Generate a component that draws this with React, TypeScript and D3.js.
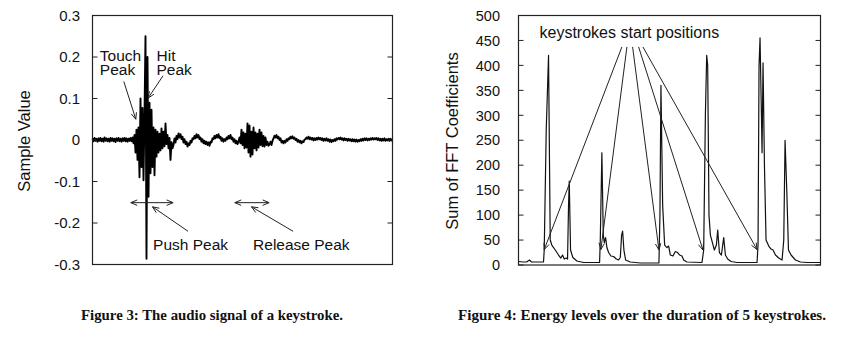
import React from "react";
import * as d3 from "d3";

// ---------- Figure 3 data: audio signal of a keystroke ----------
const sampleValues: number[] = [
  0.004, -0.003, 0.005, -0.002, 0.003, -0.004, 0.004, -0.002, 0.005, -0.003,
  0.003, -0.004, 0.006, -0.002, 0.004, -0.003, 0.003, -0.004, 0.005, -0.002,
  0.004, -0.003, 0.003, -0.005, 0.004, -0.002, 0.005, -0.003, 0.003, -0.004,
  0.004, -0.002, 0.005, -0.003, 0.004, -0.004, 0.003, -0.002, 0.005, -0.003,
  0.006, -0.008, 0.012,
  -0.03, 0.025, -0.048, 0.03, -0.09, 0.1, -0.065, 0.077, -0.097, 0.06,
  0.25, -0.286, 0.2, -0.137, 0.09, -0.08, 0.073, -0.065, 0.03, -0.085,
  0.025, -0.04, 0.02, -0.03, 0.015, -0.025, 0.028, -0.02, 0.02, -0.015,
  0.04, -0.01, 0.012, -0.02, 0.005, -0.048, -0.005, -0.02,
  -0.012, 0.004, -0.006, 0.01, 0.002, 0.016, 0.006, 0.014, 0.002, 0.008,
  -0.006, 0.002, -0.01, -0.004, -0.016, -0.008, -0.012, -0.002, -0.006, 0.004,
  0.002, 0.01, 0.004, 0.014, 0.006, 0.012, 0.002, 0.006, -0.004, 0.002,
  -0.008, -0.002, -0.01, -0.004, -0.012, -0.006, -0.014, -0.004, -0.006, 0.004,
  0.002, 0.01, 0.004, 0.012, 0.006, 0.014, 0.004, 0.008, -0.002, 0.004,
  -0.004, 0.002, -0.002, 0.006, 0.002, 0.01, 0.004, 0.012, 0.002, 0.006,
  -0.004, 0.002, -0.008, -0.002, -0.01, -0.004,
  0.006, -0.008, 0.025, -0.012, 0.018, -0.02, 0.015, -0.018, 0.04, -0.03,
  0.035, -0.04, 0.02, -0.035, 0.03, -0.02, 0.018, -0.025, 0.015, -0.018,
  0.025, -0.012, 0.018, -0.015, 0.01, -0.016, 0.006, -0.012, -0.004, -0.014,
  -0.01, -0.004, -0.012, -0.002, 0.004, 0.01, 0.006, 0.012, 0.004, 0.008,
  0.0, 0.004, -0.006, -0.002, -0.008, -0.002, -0.006, 0.002, -0.002, 0.004,
  0.002, 0.008, 0.004, 0.009, 0.003, 0.006, 0.0, 0.003, -0.004, 0.0,
  -0.006, -0.002, -0.008, -0.003, -0.005, 0.001, 0.002, 0.006, 0.003, 0.008,
  0.002, 0.006, 0.001, 0.005, -0.001, 0.004, 0.0, 0.005, 0.001, 0.006,
  0.002, 0.005, 0.0, 0.004, -0.002, 0.003, -0.001, 0.004, -0.002, 0.002,
  -0.004, 0.001, -0.005, 0.0, -0.003, 0.002, -0.002, 0.004, 0.001, 0.005,
  0.002, 0.006, 0.001, 0.004, -0.001, 0.004, 0.0, 0.003, -0.002, 0.003,
  -0.001, 0.002, -0.003, 0.002, -0.003, 0.001, -0.004, 0.001, -0.004, 0.0,
  -0.003, 0.002, -0.002, 0.003, -0.001, 0.004, 0.0, 0.004, -0.001, 0.003,
  0.0, 0.004, 0.001, 0.005, 0.001, 0.004, 0.002, 0.005, 0.0, 0.004,
  -0.001, 0.003, -0.002, 0.003, -0.001, 0.004, -0.002, 0.002, -0.001, 0.003,
  -0.002, 0.003, -0.001, 0.002,
];
const sampleTicks = [-0.3, -0.2, -0.1, 0, 0.1, 0.2, 0.3];
const sampleTickLabels = ["-0.3", "-0.2", "-0.1", "0", "0.1", "0.2", "0.3"];

// annotation arrows in data units [x1, y1, x2, y2, doubleHeaded]
const sampleArrows: [number, number, number, number, boolean][] = [
  [31.3, 0.141, 43.3, 0.05, false], // touch peak
  [70.6, 0.155, 55.6, 0.101, false], // hit peak
  [38.3, -0.151, 80.6, -0.151, true], // push span
  [142.3, -0.151, 176.6, -0.151, true], // release span
  [95.6, -0.22, 60, -0.161, false], // push peak
  [200.6, -0.22, 159, -0.161, false], // release peak
];
const sampleLabels: [string, number, number][] = [
  ["Touch", 7.3, 0.19],
  ["Peak", 7.3, 0.157],
  ["Hit", 64, 0.19],
  ["Peak", 64, 0.157],
  ["Push Peak", 60.6, -0.265],
  ["Release Peak", 160.6, -0.265],
];

// ---------- Figure 4 data: energy levels ----------
const energyFrames = [
  0, 5, 8, 11, 13, 25, 25.7, 27.7, 30, 31.7, 33.3, 36.7, 40, 42.3, 44, 45.7, 47.7, 49, 50, 50.7,
  52, 54.3, 58.3, 65, 81, 81.7, 83.3, 84.7, 85.7, 87, 88.3, 90, 92.3, 95, 97.7, 100, 101.7, 103, 104, 105.3,
  107, 111.7, 121.7, 140.3, 141.3, 142.3, 144, 146, 148.3, 150, 151.7, 154.3, 156.7, 159, 161, 163.3, 165, 168.3,
  183.3, 185, 186.7, 188, 189, 190.3, 191.7, 193.7, 195.7, 197.7, 199, 200.7, 202.7, 205, 206.7, 209, 212.3, 218.3,
  238.3, 239.3, 240.3, 241.3, 242.7, 243.3, 244.3, 245.7, 247.3, 250, 252.3, 254.3, 256.7, 260, 263.3, 265, 266.3, 268,
  269.7, 272.3, 276.7, 281.7, 288.3, 301.7,
];
const energyValues = [
  7, 6, 6, 10, 6, 6, 30, 270, 420, 50, 40, 30, 20, 14, 20, 12, 14, 12, 120, 168,
  30, 15, 8, 5, 5, 50, 225, 60, 45, 55, 35, 25, 18, 17, 12, 10, 15, 60, 68, 30,
  10, 6, 4, 4, 100, 360, 120, 40, 35, 38, 20, 18, 27, 25, 20, 18, 10, 6,
  5, 30, 300, 420, 400, 100, 60, 45, 30, 40, 70, 25, 20, 55, 20, 12, 7, 5,
  5, 40, 400, 455, 300, 225, 405, 200, 50, 38, 32, 30, 20, 14, 10, 50, 250, 150,
  30, 20, 10, 6, 5, 5,
];
const energyTicks = [0, 50, 100, 150, 200, 250, 300, 350, 400, 450, 500];
const keystrokeStarts: [number, number][] = [
  [25.7, 31],
  [82.3, 31],
  [140.3, 30],
  [184.3, 30],
  [238.3, 31],
];
const keystrokeSources = [103.3, 108.3, 114, 120, 124.3];
const keystrokeSourceValue = 437;

const SANS = "'Liberation Sans', Arial, Helvetica, sans-serif";
const SERIF = "'Liberation Serif', 'Times New Roman', serif";

function arrowPath(x1: number, y1: number, x2: number, y2: number, both: boolean) {
  const L = 7;
  const a = 0.4;
  const head = (x: number, y: number, ang: number) =>
    `M${x - L * Math.cos(ang - a)},${y - L * Math.sin(ang - a)}L${x},${y}L${x - L * Math.cos(ang + a)},${y - L * Math.sin(ang + a)}`;
  const ang = Math.atan2(y2 - y1, x2 - x1);
  let d = `M${x1},${y1}L${x2},${y2}` + head(x2, y2, ang);
  if (both) d += head(x1, y1, ang + Math.PI);
  return d;
}

function Frame({ x0, x1, y0, y1, ticks, y }: any) {
  return (
    <g>
      <rect x={x0} y={y0} width={x1 - x0} height={y1 - y0} fill="none" stroke="#222" strokeWidth={1.2} />
      {ticks.map((t: number) => (
        <g key={t}>
          <line x1={x0} x2={x0 + 5} y1={y(t)} y2={y(t)} stroke="#222" strokeWidth={1} />
          <line x1={x1 - 5} x2={x1} y1={y(t)} y2={y(t)} stroke="#222" strokeWidth={1} />
        </g>
      ))}
    </g>
  );
}

export default function App() {
  // Figure 3 scales
  const L = { x0: 92.5, x1: 392.5, y0: 15.5, y1: 264.5 };
  const xs = d3.scaleLinear().domain([0, sampleValues.length - 1]).range([L.x0, L.x1]);
  const ys = d3.scaleLinear().domain([-0.3, 0.3]).range([L.y1, L.y0]);
  const sampleLine = d3
    .line<number>()
    .x((_, i) => xs(i))
    .y((d) => ys(d))(sampleValues) as string;

  // Figure 4 scales
  const R = { x0: 518.5, x1: 820.5, y0: 15.5, y1: 265 };
  const xe = d3.scaleLinear().domain([0, 301.7]).range([R.x0, R.x1]);
  const ye = d3.scaleLinear().domain([0, 500]).range([R.y1, R.y0]);
  const energyLine = d3
    .line<number>()
    .x((_, i) => xe(energyFrames[i]))
    .y((d) => ye(d))(energyValues) as string;

  return (
    <svg width={859} height={347} style={{ position: "absolute", left: 0, top: 0, background: "#fff" }}>
      <rect width={859} height={347} fill="#fff" />
      {/* ---------- Figure 3 ---------- */}
      <g fontFamily={SANS} fill="#111">
        {sampleTicks.map((t, i) => (
          <text key={t} x={80} y={ys(t)} dy="0.36em" textAnchor="end" fontSize={15}>
            {sampleTickLabels[i]}
          </text>
        ))}
        <text transform={`translate(30,141) rotate(-90)`} textAnchor="middle" fontSize={16.5}>
          Sample Value
        </text>
      </g>
      <path d={sampleLine} fill="none" stroke="#000" strokeWidth={1.9} strokeLinejoin="round" />
      <Frame x0={L.x0} x1={L.x1} y0={L.y0} y1={L.y1} ticks={sampleTicks} y={ys} />
      {sampleArrows.map(([a, b, c, d, both], i) => (
        <path key={i} d={arrowPath(xs(a), ys(b), xs(c), ys(d), both)} fill="none" stroke="#222" strokeWidth={1} />
      ))}
      <g fontFamily={SANS} fontSize={15.5} fill="#111">
        {sampleLabels.map(([s, a, b], i) => (
          <text key={i} x={xs(a)} y={ys(b)}>
            {s}
          </text>
        ))}
      </g>

      {/* ---------- Figure 4 ---------- */}
      <g fontFamily={SANS} fill="#111">
        {energyTicks.map((t) => (
          <text key={t} x={500} y={ye(t)} dy="0.36em" textAnchor="end" fontSize={14.5}>
            {t}
          </text>
        ))}
        <text transform={`translate(458,141) rotate(-90)`} textAnchor="middle" fontSize={16.5}>
          Sum of FFT Coefficients
        </text>
      </g>
      <path d={energyLine} fill="none" stroke="#111" strokeWidth={1.2} strokeLinejoin="round" />
      <Frame x0={R.x0} x1={R.x1} y0={R.y0} y1={R.y1} ticks={energyTicks} y={ye} />
      {keystrokeStarts.map(([t, v], i) => (
        <path
          key={i}
          d={arrowPath(xe(keystrokeSources[i]), ye(keystrokeSourceValue), xe(t), ye(v), false)}
          fill="none"
          stroke="#222"
          strokeWidth={1}
        />
      ))}
      <text x={xe(21)} y={ye(455)} fontFamily={SANS} fontSize={16} fill="#111">
        keystrokes start positions
      </text>

      {/* ---------- captions ---------- */}
      <g fontFamily={SERIF} fontWeight="bold" fontSize={15} fill="#111">
        <text x={81} y={320} textLength={262} lengthAdjust="spacingAndGlyphs">
          Figure 3: The audio signal of a keystroke.
        </text>
        <text x={458} y={320} textLength={368} lengthAdjust="spacingAndGlyphs">
          Figure 4: Energy levels over the duration of 5 keystrokes.
        </text>
      </g>
    </svg>
  );
}
